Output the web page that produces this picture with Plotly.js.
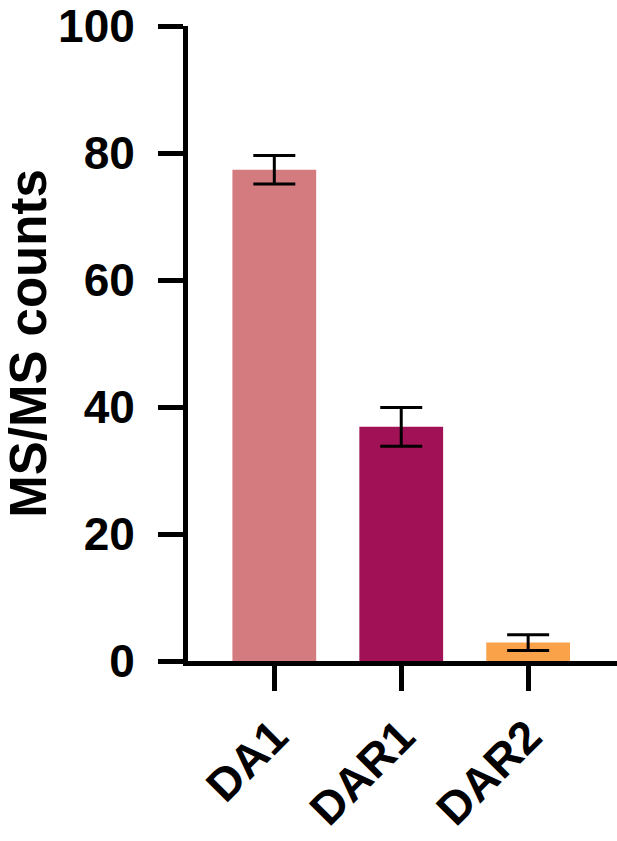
<!DOCTYPE html>
<html>
<head>
<script src="https://cdn.plot.ly/plotly-3.0.1.min.js"></script>
<style>html,body{margin:0;padding:0;background:#fff;}#chart{width:617px;height:841px;}</style>
</head>
<body>
<div id="chart"></div>
<script>
const categories = ["DA1", "DAR1", "DAR2"];
const means = [77.4, 36.9, 2.9];
const errors = [2.25, 3.05, 1.25];
const barColors = ["#D47B80", "#A01155", "#F9A24A"];
const yTicks = [0, 20, 40, 60, 80, 100];

const font = "Liberation Sans, Arial, sans-serif";

const trace = {
  type: "bar",
  x: categories,
  y: means,
  marker: {color: barColors, line: {width: 0}},
  width: 0.66,
  error_y: {type: "data", array: errors, visible: true, color: "#000", thickness: 3, width: 21}
};

const layout = {
  width: 617, height: 841,
  margin: {l: 187.5, r: 0, t: 26, b: 179.5, pad: 0},
  paper_bgcolor: "#fff", plot_bgcolor: "#fff",
  showlegend: false,
  font: {family: font, color: "#000"},
  xaxis: {
    range: [-0.68, 2.7],
    showline: true, linewidth: 5, linecolor: "#000",
    ticks: "outside", ticklen: 25, tickwidth: 5, tickcolor: "#000",
    tickangle: -45,
    ticklabeloverflow: "allow",
    tickfont: {family: font, size: 46, weight: "bold", color: "#000"},
    showgrid: false, zeroline: false, fixedrange: true
  },
  yaxis: {
    range: [0, 100.05],
    tickvals: yTicks,
    ticktext: yTicks.map(String),
    showline: true, linewidth: 5, linecolor: "#000",
    ticks: "outside", ticklen: 25, tickwidth: 5, tickcolor: "#000",
    ticklabelstandoff: 14,
    ticklabeloverflow: "allow",
    tickfont: {family: font, size: 46, weight: "bold", color: "#000"},
    showgrid: false, zeroline: false,
    title: {text: "MS/MS counts", font: {family: font, size: 51, weight: "bold", color: "#000"}, standoff: 22}
  }
};

Plotly.newPlot("chart", [trace], layout, {displayModeBar: false, staticPlot: true});
</script>
</body>
</html>
